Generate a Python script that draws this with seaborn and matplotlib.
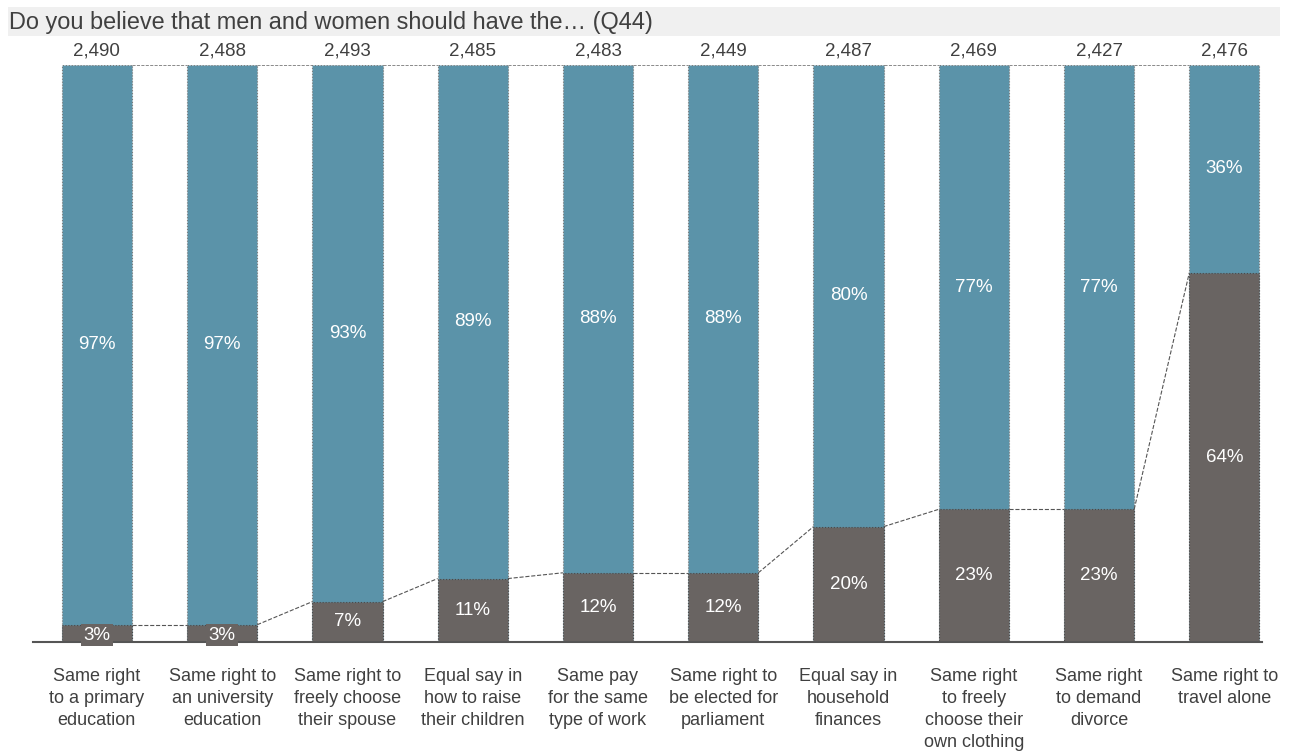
import pandas as pd
import matplotlib.pyplot as plt
import seaborn as sns
from matplotlib.patches import Rectangle

# Chart data
items = ["Same right\nto a primary\neducation", "Same right to\nan university\neducation",
         "Same right to\nfreely choose\ntheir spouse", "Equal say in\nhow to raise\ntheir children",
         "Same pay\nfor the same\ntype of work", "Same right to\nbe elected for\nparliament",
         "Equal say in\nhousehold\nfinances", "Same right\nto freely\nchoose their\nown clothing",
         "Same right\nto demand\ndivorce", "Same right to\ntravel alone"]
yes_pct = [97, 97, 93, 89, 88, 88, 80, 77, 77, 36]
no_pct = [3, 3, 7, 11, 12, 12, 20, 23, 23, 64]
counts = ["2,490", "2,488", "2,493", "2,485", "2,483", "2,449", "2,487", "2,469", "2,427", "2,476"]

df = pd.DataFrame({"item": items, "yes": yes_pct, "no": no_pct})
df["total"] = df["yes"] + df["no"]

blue = "#5b93a9"
grey = "#696462"
bw = 0.56

sns.set_style("white")
plt.rcParams["font.family"] = ["Liberation Sans", "DejaVu Sans"]

fig = plt.figure(figsize=(12.93, 7.51), dpi=100)
ax = fig.add_axes([0.0255, 0.1451, 0.9505, 0.7683])

# title band
fig.patches.append(Rectangle((8 / 1293, 1 - 36 / 751), 1272 / 1293, 29 / 751,
                             transform=fig.transFigure, facecolor="#f0f0f0",
                             edgecolor="none", zorder=0))
fig.text(9 / 1293, 1 - 22 / 751, "Do you believe that men and women should have the\u2026 (Q44)",
         fontsize=16.9, color="#404040", va="center", ha="left")

sns.barplot(data=df, x="item", y="total", color=blue, width=bw, saturation=1,
            edgecolor="#7a7a7a", linewidth=0.8, linestyle=":", ax=ax)
sns.barplot(data=df, x="item", y="no", color=grey, width=bw, saturation=1,
            edgecolor="#4a4a4a", linewidth=0.8, linestyle=":", ax=ax)

n = len(df)
for i in range(n):
    g = df["no"][i]
    t = df["total"][i]
    ax.text(i, (g + t) / 2, f"{df['yes'][i]}%", color="white", fontsize=13.5,
            ha="center", va="center")
    if g < 5:
        ax.text(i, g / 2 - 0.3, f"{g}%", color="white", fontsize=13.5, ha="center", va="center",
                bbox=dict(boxstyle="square,pad=0.12", facecolor=grey, edgecolor="none"))
    else:
        ax.text(i, g / 2, f"{g}%", color="white", fontsize=13.5, ha="center", va="center")
    ax.text(i, t + 2.5, counts[i], color="#404040", fontsize=13.5, ha="center", va="center",
            clip_on=False)
    if i < n - 1:
        ax.plot([i + bw / 2, i + 1 - bw / 2], [g, df["no"][i + 1]], ls="--", lw=0.8,
                color="#555555", zorder=3)
        ax.plot([i + bw / 2, i + 1 - bw / 2], [t, df["total"][i + 1]], ls="--", lw=0.6,
                color="#777777", zorder=3)

ax.set_xlim(-0.51, 9.30)
ax.set_ylim(0, 100)
ax.set_xlabel("")
ax.set_ylabel("")
ax.set_yticks([])
ax.tick_params(axis="x", length=0, pad=19, labelsize=13, labelcolor="#404040")
for lab in ax.get_xticklabels():
    lab.set_linespacing(1.37)
for s in ["top", "left", "right"]:
    ax.spines[s].set_visible(False)
ax.spines["bottom"].set_color("#555555")
ax.spines["bottom"].set_linewidth(1.5)

fig.savefig("out.png", dpi=100)
